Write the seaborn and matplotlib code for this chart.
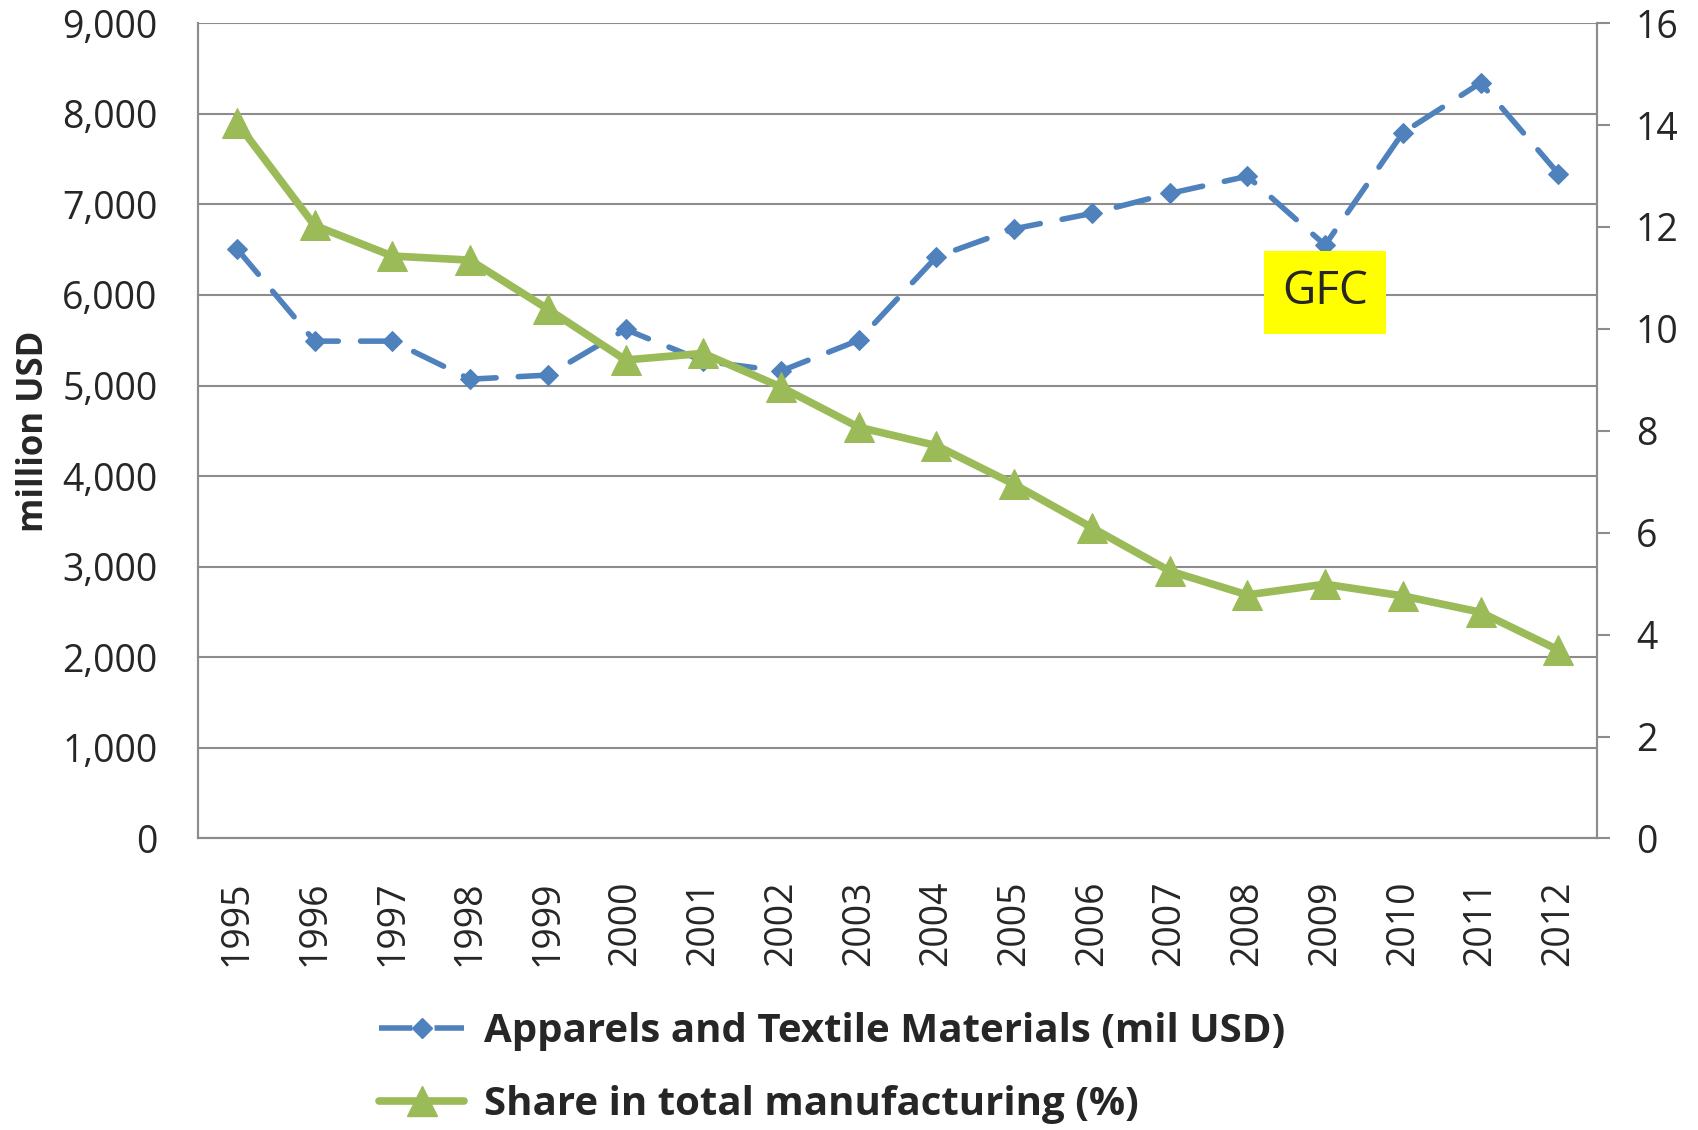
import pandas as pd
import matplotlib.pyplot as plt
import seaborn as sns
from matplotlib.lines import Line2D

years = [str(y) for y in range(1995, 2013)]
apparel_mil_usd = [6510, 5490, 5490, 5070, 5115, 5620, 5270, 5160, 5500,
                   6420, 6730, 6900, 7120, 7310, 6550, 7790, 8340, 7340]
share_pct = [14.05, 12.03, 11.43, 11.35, 10.39, 9.39, 9.52, 8.86, 8.07,
             7.71, 6.95, 6.10, 5.25, 4.78, 4.99, 4.76, 4.44, 3.70]
left_ticks = list(range(0, 9001, 1000))
right_ticks = list(range(0, 17, 2))

blue = "#4F81BD"
green = "#9BBB59"
grid_gray = "#8C8C8C"

df = pd.DataFrame({"year": years, "apparel": apparel_mil_usd, "share": share_pct})
df["pos"] = range(len(df))

sns.set_style("white")
plt.rcParams["font.family"] = ["Open Sans", "DejaVu Sans"]

fig = plt.figure(figsize=(16.98, 11.30), dpi=100)
ax = fig.add_axes([0.1166, 0.258, 0.8240, 0.7215])
ax2 = ax.twinx()

# blue dashed series with diamonds
sns.lineplot(data=df, x="pos", y="apparel", ax=ax, color=blue, linewidth=4,
             marker="D", markersize=10, markeredgecolor=blue)
ax.lines[0].set_dashes((6, 4))
ax.lines[0].set_dash_capstyle("round")

# green share series with triangles
sns.lineplot(data=df, x="pos", y="share", ax=ax2, color=green, linewidth=5.5,
             marker="^", markersize=21, markeredgecolor=green)

ax.set_xlim(-0.5, len(years) - 0.5)
ax.set_ylim(0, 9000)
ax2.set_ylim(0, 16)
ax.set_yticks(left_ticks)
ax.set_yticklabels([f"{v:,}" for v in left_ticks], fontsize=27)
ax2.set_yticks(right_ticks)
ax2.set_yticklabels([str(v) for v in right_ticks], fontsize=27)
ax.set_xticks(df["pos"])
ax.set_xticklabels(years, rotation=90, fontsize=27)
ax.tick_params(axis="x", length=0, pad=30)
ax.tick_params(axis="y", length=0, pad=29)
ax2.tick_params(axis="y", length=9, width=1.5, color=grid_gray, direction="out", pad=19)

ax.grid(axis="y", color=grid_gray, linewidth=1.5)
ax.set_axisbelow(True)
ax.set_xlabel("")
ax.set_ylabel("million USD", fontsize=25, fontweight="bold")
ax.yaxis.set_label_coords(-0.104, 0.5)
ax2.set_ylabel("")

for a in (ax, ax2):
    for side in ("left", "right", "bottom"):
        a.spines[side].set_color(grid_gray)
        a.spines[side].set_linewidth(1.5)
    a.spines["top"].set_visible(False)

# GFC annotation
ax.text(14, 6030, "GFC", fontsize=33, ha="center", va="center",
        bbox=dict(boxstyle="square,pad=0.4", facecolor="yellow", edgecolor="none"))

handles = [
    Line2D([0], [0], color=blue, linewidth=4, linestyle=(0, (6, 4)),
           marker="D", markersize=10),
    Line2D([0], [0], color=green, linewidth=5.5, marker="^", markersize=21),
]
labels = ["Apparels and Textile Materials (mil USD)", "Share in total manufacturing (%)"]
fig.legend(handles, labels, loc="lower left", bbox_to_anchor=(0.202, -0.027),
           frameon=False, ncol=1, prop={"size": 29, "weight": "bold"},
           handlelength=2.1, handletextpad=0.5, labelspacing=0.85)

fig.savefig("out.png", dpi=100)
